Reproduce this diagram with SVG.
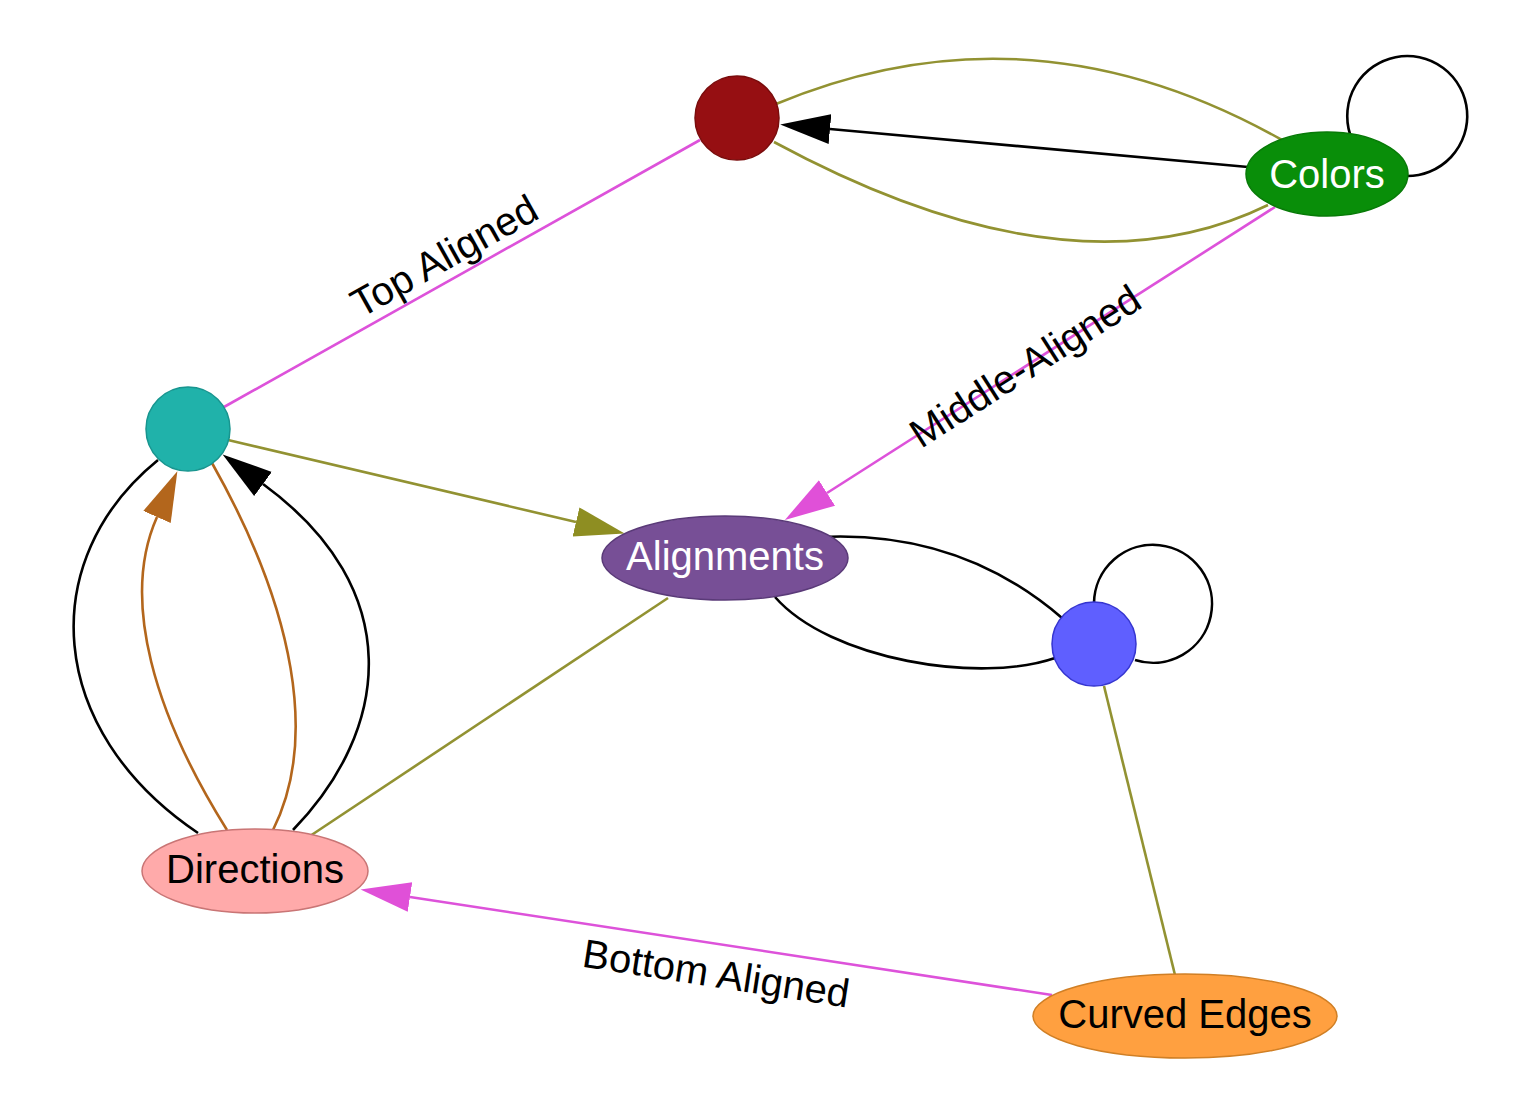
<svg xmlns="http://www.w3.org/2000/svg" width="1516" height="1117" viewBox="0 0 1516 1117">
<defs>
<style>
.e{fill:none;stroke-width:2.6}
.k{stroke:#000}
.m{stroke:#DD52DA}
.o{stroke:#929232}
.b{stroke:#B3661C}
.nt{font-family:"Liberation Sans",Arial,sans-serif;font-size:40px;text-anchor:middle}
.lt{font-family:"Liberation Sans",Arial,sans-serif;font-size:40px;text-anchor:middle;fill:#000}
</style>
<marker id="ak" markerUnits="userSpaceOnUse" markerWidth="52" markerHeight="34" viewBox="0 -17 52 34" refX="0" refY="0" orient="auto"><path d="M0,-15 L50,0 L0,15 z" fill="#000"/></marker>
<marker id="am" markerUnits="userSpaceOnUse" markerWidth="52" markerHeight="34" viewBox="0 -17 52 34" refX="0" refY="0" orient="auto"><path d="M0,-15 L50,0 L0,15 z" fill="#E050D8"/></marker>
<marker id="ao" markerUnits="userSpaceOnUse" markerWidth="52" markerHeight="34" viewBox="0 -17 52 34" refX="0" refY="0" orient="auto"><path d="M0,-15 L50,0 L0,15 z" fill="#8E8E22"/></marker>
<marker id="ab" markerUnits="userSpaceOnUse" markerWidth="52" markerHeight="34" viewBox="0 -17 52 34" refX="0" refY="0" orient="auto"><path d="M0,-15 L50,0 L0,15 z" fill="#B3661C"/></marker>
</defs>
<rect width="1516" height="1117" fill="#fff"/>
<g id="connectors">
<path class="e m" d="M224,407 L700,140"/>
<path class="e k" d="M1248,167 L830,129" marker-end="url(#ak)"/>
<path class="e o" d="M776,104 Q1030,-2 1282,140"/>
<path class="e o" d="M774,142 Q1070,302 1268,205"/>
<path class="e k" d="M1350,134 A60,60 0 1 1 1406,176"/>
<path class="e m" d="M1275,207 L827,493" marker-end="url(#am)"/>
<path class="e o" d="M228,440 L576,522" marker-end="url(#ao)"/>
<path class="e o" d="M668,598 L310,836"/>
<path class="e k" d="M820,537 Q960,530 1062,618"/>
<path class="e k" d="M775,597 C830,660 980,684 1055,658"/>
<path class="e k" d="M1094,603 A59,59 0 1 1 1135,660"/>
<path class="e o" d="M1104,686 L1175,975"/>
<path class="e m" d="M1052,995 L410,897" marker-end="url(#am)"/>
<path class="e k" d="M198,833 C45,730 35,560 158,460"/>
<path class="e b" d="M227,830 C155,715 120,600 157,517" marker-end="url(#ab)"/>
<path class="e b" d="M273,830 C318,740 295,610 212,463"/>
<path class="e k" d="M293,830 C390,730 408,590 263,484" marker-end="url(#ak)"/>
<text class="lt" transform="translate(451,268) rotate(-29.3)">Top Aligned</text>
<text class="lt" transform="translate(1025,366) rotate(-32.6)" dominant-baseline="central">Middle-Aligned</text>
<text class="lt" transform="translate(714,987) rotate(8.8)">Bottom Aligned</text>
</g>
<g id="n-red"><circle cx="737" cy="118" r="42" fill="#960F12" stroke="#7A0C0C" stroke-width="1.5"/></g>
<g id="n-colors"><ellipse cx="1327" cy="174" rx="81" ry="42" fill="#098E09" stroke="#077A07" stroke-width="1.5"/><text class="nt" x="1327" y="188" fill="#fff">Colors</text></g>
<g id="n-teal"><circle cx="188" cy="429" r="42" fill="#20B2AA" stroke="#17958F" stroke-width="1.5"/></g>
<g id="n-alignments"><ellipse cx="725" cy="558" rx="123" ry="42" fill="#774F96" stroke="#5A3A78" stroke-width="1.5"/><text class="nt" x="725" y="570" fill="#fff">Alignments</text></g>
<g id="n-blue"><circle cx="1094" cy="644" r="42" fill="#5F5FFF" stroke="#3535D0" stroke-width="1.5"/></g>
<g id="n-directions"><ellipse cx="255" cy="871" rx="113" ry="42" fill="#FFAAAA" stroke="#C97575" stroke-width="1.5"/><text class="nt" x="255" y="883" fill="#000">Directions</text></g>
<g id="n-curved"><ellipse cx="1185" cy="1016" rx="152" ry="42" fill="#FFA040" stroke="#D07F25" stroke-width="1.5"/><text class="nt" x="1185" y="1028" fill="#000">Curved Edges</text></g>
</svg>
